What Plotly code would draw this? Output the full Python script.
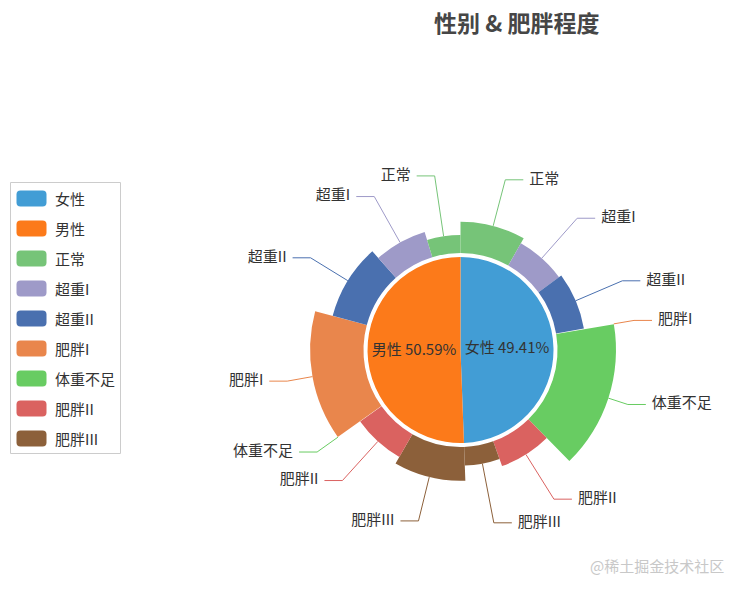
import math
import plotly.graph_objects as go

# ---------------- data ----------------
title_text = "性别 & 肥胖程度"
genders = ["女性", "男性"]
gender_counts = [1043, 1068]
gender_colors = ["#429dd5", "#fc7a1a"]

levels = ["正常", "超重I", "超重II", "肥胖I", "体重不足", "肥胖II", "肥胖III"]
female_counts = [173, 141, 156, 2, 323, 145, 103]
male_counts = [99, 146, 195, 295, 1, 145, 187]
level_colors = ["#76c478", "#9e9ac8", "#4a70af", "#e9864c", "#68cc62", "#da6260", "#8c603a"]

watermark = "@稀土掘金技术社区"

# ---------------- layout constants ----------------
W, H = 743, 591
CX, CY = 460.5, 350.0      # pixel centre of the pies
R_RANGE = 215              # radial axis range == pixel radius of polar domain
INNER_R = 93
RING_BASE = 97
RING_MAX = 58.5
ELBOW_R = 176
LEN2 = 18
GAP = 6
FONT = "Noto Sans CJK SC"
TXT = "#333333"
FS = 15

# ---------------- outer ring slices (clockwise from top) ----------------
slices = [(lv, c, col) for lv, c, col in zip(levels, female_counts, level_colors)]
slices += [(lv, c, col) for lv, c, col in reversed(list(zip(levels, male_counts, level_colors)))]
total_outer = sum(c for _, c, _ in slices)
max_cnt = max(c for _, c, _ in slices)

thetas, widths, thick, cols, names = [], [], [], [], []
cum = 0
for lv, c, col in slices:
    w = c / total_outer * 360
    thetas.append((cum + c / 2) / total_outer * 360)
    widths.append(w)
    thick.append(RING_MAX * c / max_cnt)
    cols.append(col)
    names.append(lv)
    cum += c

# inner pie
total_g = sum(gender_counts)
g_theta, g_width = [], []
cum = 0
for c in gender_counts:
    g_theta.append((cum + c / 2) / total_g * 360)
    g_width.append(c / total_g * 360)
    cum += c

fig = go.Figure()

fig.add_trace(go.Barpolar(
    r=[INNER_R] * len(genders), theta=g_theta, width=g_width, base=[0] * len(genders),
    marker=dict(color=gender_colors, line=dict(width=0)),
    hoverinfo="skip", showlegend=False))

fig.add_trace(go.Barpolar(
    r=thick, theta=thetas, width=widths, base=[RING_BASE] * len(thick),
    marker=dict(color=cols, line=dict(width=0)),
    hoverinfo="skip", showlegend=False))


def to_polar(x, y):
    return math.hypot(x, y), math.degrees(math.atan2(x, y)) % 360


# label lines + texts
n = len(thetas)
txt_r, txt_t, txt_s, txt_p = [], [], [], []
for i, (th, tk, col, nm) in enumerate(zip(thetas, thick, cols, names)):
    ro = RING_BASE + tk
    if tk < 2:  # tiny slice: its line is hidden under the neighbouring sectors
        ro = max(RING_BASE + thick[(i - 1) % n], RING_BASE + thick[(i + 1) % n])
    a = math.radians(th)
    xe, ye = ELBOW_R * math.sin(a), ELBOW_R * math.cos(a)
    side = 1 if math.sin(a) > 0 else -1
    rh, thh = to_polar(xe + side * LEN2, ye)
    fig.add_trace(go.Scatterpolar(
        r=[ro, ELBOW_R, rh], theta=[th, th, thh], mode="lines",
        line=dict(color=col, width=1), hoverinfo="skip", showlegend=False,
        cliponaxis=False))
    rt, tt = to_polar(xe + side * (LEN2 + GAP), ye)
    txt_r.append(rt)
    txt_t.append(tt)
    txt_s.append(nm)
    txt_p.append("middle right" if side > 0 else "middle left")

fig.add_trace(go.Scatterpolar(
    r=txt_r, theta=txt_t, text=txt_s, mode="text", textposition=txt_p,
    textfont=dict(family=FONT, size=FS, color=TXT), hoverinfo="skip",
    showlegend=False, cliponaxis=False))

# inner labels
g_text = [f"{g} {c / total_g * 100:.2f}%" for g, c in zip(genders, gender_counts)]
fig.add_trace(go.Scatterpolar(
    r=[INNER_R / 2] * len(genders), theta=g_theta, text=g_text, mode="text",
    textposition="middle center", textfont=dict(family=FONT, size=FS, color=TXT),
    hoverinfo="skip", showlegend=False, cliponaxis=False))

# ---------------- custom legend ----------------
shapes, annotations = [], []
leg_names = genders + levels
leg_colors = gender_colors + level_colors
box_top, box_bot, box_l, box_r = 182.5, 453.5, 10.5, 120.5
shapes.append(dict(type="rect", xref="paper", yref="paper",
                   x0=box_l / W, x1=box_r / W, y0=1 - box_bot / H, y1=1 - box_top / H,
                   line=dict(color="#cccccc", width=1), fillcolor="rgba(0,0,0,0)"))
icon_path = ("M -11,-8 H 11 Q 15,-8 15,-4 V 4 Q 15,8 11,8 H -11 "
             "Q -15,8 -15,4 V -4 Q -15,-8 -11,-8 Z")
for i, (nm, col) in enumerate(zip(leg_names, leg_colors)):
    yc = 198.5 + 30 * i
    shapes.append(dict(type="path", xref="paper", yref="paper",
                       xsizemode="pixel", ysizemode="pixel",
                       xanchor=31.5 / W, yanchor=1 - yc / H, path=icon_path,
                       fillcolor=col, line=dict(width=0)))
    annotations.append(dict(text=nm, x=53 / W, y=1 - yc / H, xref="paper", yref="paper",
                            xanchor="left", yanchor="middle", showarrow=False,
                            font=dict(family=FONT, size=FS, color=TXT)))

# title & watermark
annotations.append(dict(text=f"<b>{title_text}</b>", x=516.5 / W, y=1 - 22 / H,
                        xref="paper", yref="paper", xanchor="center", yanchor="middle",
                        showarrow=False, font=dict(family=FONT, size=23, color="#464646")))
annotations.append(dict(text=watermark, x=726 / W, y=1 - 565 / H, xref="paper", yref="paper",
                        xanchor="right", yanchor="middle", showarrow=False,
                        font=dict(family=FONT, size=15, color="#c8c8c8")))

fig.update_layout(
    width=W, height=H, autosize=False,
    margin=dict(l=0, r=0, t=0, b=0),
    paper_bgcolor="white", plot_bgcolor="white",
    showlegend=False,
    shapes=shapes, annotations=annotations,
    polar=dict(
        domain=dict(x=[(CX - R_RANGE) / W, (CX + R_RANGE) / W],
                    y=[(H - CY - R_RANGE) / H, (H - CY + R_RANGE) / H]),
        bgcolor="rgba(0,0,0,0)",
        barmode="overlay", bargap=0,
        radialaxis=dict(range=[0, R_RANGE], visible=False, showgrid=False),
        angularaxis=dict(rotation=90, direction="clockwise", visible=False,
                         showgrid=False, thetaunit="degrees"),
    ),
)

fig.write_html("out.html", config={"displayModeBar": False},
               post_script="document.body.style.margin='0px';")
